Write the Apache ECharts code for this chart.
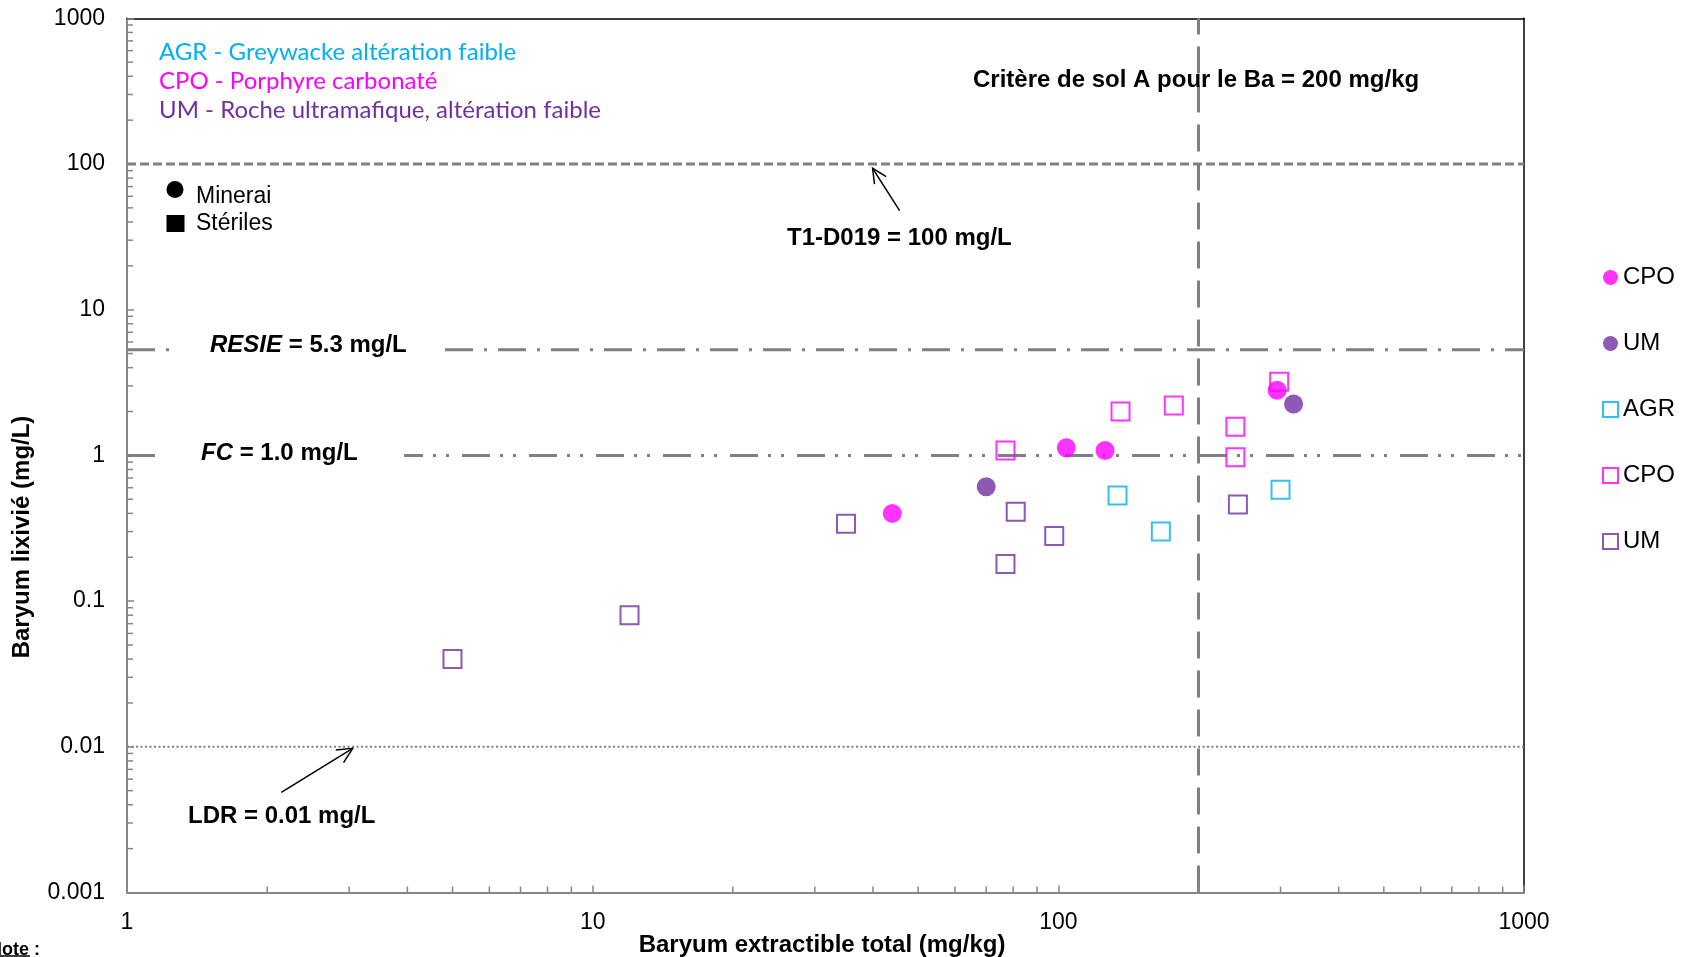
<!DOCTYPE html>
<html>
<head>
<meta charset="utf-8">
<script src="https://cdn.jsdelivr.net/npm/echarts@6/dist/echarts.min.js"></script>
<style>
  html, body { margin: 0; padding: 0; background: #fff; }
  #chart { width: 1684px; height: 957px; }
</style>
</head>
<body>
<div id="chart"></div>
<script>
// Axis tick labels (one per decade)
const xTickLabels = ['1', '10', '100', '1000'];
const yTickLabels = ['0.001', '0.01', '0.1', '1', '10', '100', '1000'];

// Minerai (filled circles): [Ba extractible total mg/kg, Ba lixivié mg/L]
const cpoMinerai = [[44, 0.40], [104, 1.13], [126, 1.08], [295, 2.8]];
const umMinerai = [[70, 0.61], [320, 2.25]];

// Stériles (open squares)
const agrSteriles = [[134, 0.53], [166, 0.30], [300, 0.58]];
const cpoSteriles = [[77, 1.08], [136, 2.0], [177, 2.2], [240, 1.57], [240, 0.97], [298, 3.2]];
const umSteriles = [[5, 0.04], [12, 0.08], [35, 0.34], [81, 0.41], [98, 0.28], [77, 0.18], [243, 0.46]];

// Regulatory thresholds
const critereSolA = 200;   // mg/kg
const t1d019 = 100;        // mg/L
const resie = 5.3;         // mg/L
const fc = 1.0;            // mg/L
const ldr = 0.01;          // mg/L

// Legend entries (right side)
const legendLabels = { cpoM: 'CPO', umM: 'UM', agrS: 'AGR', cpoS: 'CPO', umS: 'UM' };

const X_MIN = 1, X_MAX = 1000, Y_MIN = 0.001, Y_MAX = 1000;
const C_AGR = '#00B0F0', C_CPO = '#FF00FF', C_UM = '#7030A0';
const GREY = '#808080', AXIS_GREY = '#868686';
const FONT = '"Liberation Sans", Arial, sans-serif';
const KEY_FONT = '24px Lato, "Noto Sans", sans-serif';

// minor tick values 2..9 inside each decade
function minorValues(lo, hi) {
  const out = [];
  for (let d = lo; d < hi * 0.999; d *= 10) {
    for (let k = 2; k <= 9; k++) out.push(+(d * k).toPrecision(6));
  }
  return out;
}

function minorTickSeries(values, dir) {
  return {
    type: 'custom', silent: true, z: 5, clip: false, animation: false,
    data: values.map(v => dir === 'x' ? [v, Y_MIN] : [X_MIN, v]),
    renderItem: (params, api) => {
      const p = api.coord([api.value(0), api.value(1)]);
      const len = 6;
      const shape = dir === 'x'
        ? { x1: p[0], y1: p[1], x2: p[0], y2: p[1] - len }
        : { x1: p[0], y1: p[1], x2: p[0] + len, y2: p[1] };
      return { type: 'line', shape, style: { stroke: AXIS_GREY, lineWidth: 1.5 } };
    }
  };
}

function refLine(points, width, dash) {
  return {
    type: 'line', silent: true, z: 1, animation: false, showSymbol: false,
    data: points,
    lineStyle: { color: GREY, width: width, type: dash }
  };
}

function scatter(name, data, symbol, color, filled, z) {
  return {
    name, type: 'scatter', data, symbol, z, animation: false,
    symbolSize: filled ? 19 : 18,
    itemStyle: filled
      ? { color: color }
      : { color: 'transparent', borderColor: color, borderWidth: 2 }
  };
}

function arrow(x1, y1, x2, y2, head) {
  const a = Math.atan2(y2 - y1, x2 - x1);
  const s = 0.45;
  return [
    { type: 'line', z: 20, shape: { x1, y1, x2, y2 }, style: { stroke: '#000', lineWidth: 1.5 } },
    { type: 'polyline', z: 20, shape: { points: [
        [x2 - head * Math.cos(a - s), y2 - head * Math.sin(a - s)],
        [x2, y2],
        [x2 - head * Math.cos(a + s), y2 - head * Math.sin(a + s)]
      ] }, style: { stroke: '#000', lineWidth: 1.5, fill: null } }
  ];
}

function boldText(text, x, y, size, align) {
  return { type: 'text', z: 20, x, y, style: {
    text, fill: '#000', font: 'bold ' + size + 'px ' + FONT,
    align: align || 'left', verticalAlign: 'middle' } };
}

const chart = echarts.init(document.getElementById('chart'), null, { renderer: 'canvas' });

const baseAxis = {
  type: 'log', logBase: 10, splitLine: { show: false }, minorTick: { show: false }
};

chart.setOption({
  animation: false,
  backgroundColor: '#fff',
  grid: { left: 127, top: 18.3, width: 1397, height: 874.2 },
  xAxis: [
    Object.assign({}, baseAxis, {
      min: X_MIN, max: X_MAX, position: 'bottom',
      axisLine: { onZero: false, lineStyle: { color: AXIS_GREY, width: 2 } },
      axisTick: { inside: true, length: 7, lineStyle: { color: AXIS_GREY, width: 1.5 } },
      axisLabel: { margin: 19, color: '#000', fontSize: 23, fontFamily: FONT,
        formatter: v => xTickLabels[Math.round(Math.log10(v))] }
    }),
    Object.assign({}, baseAxis, {
      min: X_MIN, max: X_MAX, position: 'top',
      axisLine: { onZero: false, lineStyle: { color: '#000', width: 1.5 } },
      axisTick: { show: false }, axisLabel: { show: false }
    })
  ],
  yAxis: [
    Object.assign({}, baseAxis, {
      min: Y_MIN, max: Y_MAX, position: 'left',
      axisLine: { onZero: false, lineStyle: { color: AXIS_GREY, width: 2 } },
      axisTick: { inside: true, length: 7, lineStyle: { color: AXIS_GREY, width: 1.5 } },
      axisLabel: { margin: 22, color: '#000', fontSize: 23, fontFamily: FONT,
        formatter: v => yTickLabels[Math.round(Math.log10(v)) + 3] }
    }),
    Object.assign({}, baseAxis, {
      min: Y_MIN, max: Y_MAX, position: 'right',
      axisLine: { onZero: false, lineStyle: { color: '#000', width: 1.5 } },
      axisTick: { show: false }, axisLabel: { show: false }
    })
  ],
  legend: {
    orient: 'vertical', left: 1597, top: 260.5,
    itemWidth: 15, itemHeight: 15, itemGap: 42,
    formatter: name => legendLabels[name],
    textStyle: { color: '#000', fontSize: 24, fontFamily: FONT },
    data: [
      { name: 'cpoM', icon: 'circle', itemStyle: { color: C_CPO } },
      { name: 'umM', icon: 'circle', itemStyle: { color: C_UM } },
      { name: 'agrS', icon: 'rect', itemStyle: { color: '#fff', borderColor: C_AGR, borderWidth: 2 } },
      { name: 'cpoS', icon: 'rect', itemStyle: { color: '#fff', borderColor: C_CPO, borderWidth: 2 } },
      { name: 'umS', icon: 'rect', itemStyle: { color: '#fff', borderColor: C_UM, borderWidth: 2 } }
    ]
  },
  series: [
    refLine([[X_MIN, t1d019], [X_MAX, t1d019]], 3, [9, 4]),
    refLine([[X_MIN, resie], [X_MAX, resie]], 3, [28, 11, 3, 11]),
    refLine([[X_MIN, fc], [X_MAX, fc]], 3, [28, 10, 3, 10, 3, 13]),
    refLine([[X_MIN, ldr], [X_MAX, ldr]], 2, [2, 2.5]),
    refLine([[critereSolA, Y_MIN], [critereSolA, Y_MAX]], 3, [27, 12]),
    minorTickSeries(minorValues(X_MIN, X_MAX), 'x'),
    minorTickSeries(minorValues(Y_MIN, Y_MAX), 'y'),
    scatter('agrS', agrSteriles, 'rect', C_AGR, false, 3),
    scatter('cpoS', cpoSteriles, 'rect', C_CPO, false, 3),
    scatter('umS', umSteriles, 'rect', C_UM, false, 3),
    scatter('cpoM', cpoMinerai, 'circle', C_CPO, true, 4),
    scatter('umM', umMinerai, 'circle', C_UM, true, 4)
  ],
  graphic: [
    // rock-type key
    { type: 'text', z: 20, x: 159, y: 52.6, style: { text: 'AGR - Greywacke altération faible', fill: C_AGR, font: KEY_FONT, verticalAlign: 'middle' } },
    { type: 'text', z: 20, x: 159, y: 81.6, style: { text: 'CPO - Porphyre carbonaté', fill: C_CPO, font: KEY_FONT, verticalAlign: 'middle' } },
    { type: 'text', z: 20, x: 159, y: 110, style: { text: 'UM - Roche ultramafique, altération faible', fill: C_UM, font: KEY_FONT, verticalAlign: 'middle' } },
    // material key
    { type: 'circle', z: 20, shape: { cx: 175, cy: 189.5, r: 8.5 }, style: { fill: '#000' } },
    { type: 'text', z: 20, x: 196, y: 197, style: { text: 'Minerai', fill: '#000', font: '23px ' + FONT, verticalAlign: 'middle' } },
    { type: 'rect', z: 20, shape: { x: 166.5, y: 215, width: 18, height: 17 }, style: { fill: '#000' } },
    { type: 'text', z: 20, x: 196, y: 224, style: { text: 'Stériles', fill: '#000', font: '23px ' + FONT, verticalAlign: 'middle' } },
    // threshold labels
    boldText('Critère de sol A pour le Ba = 200 mg/kg', 973, 80, 24),
    boldText('T1-D019 = 100 mg/L', 787, 238, 24),
    ...arrow(899.6, 210.7, 872.6, 168.3, 16),
    { type: 'rect', z: 15, shape: { x: 172, y: 338, width: 264, height: 24 }, style: { fill: '#fff' } },
    { type: 'text', z: 20, x: 210, y: 345, style: {
        text: '{i|RESIE}{b| = 5.3 mg/L}', verticalAlign: 'middle',
        rich: { i: { fontStyle: 'italic', fontWeight: 'bold', fontSize: 24, fontFamily: FONT, fill: '#000' },
                b: { fontWeight: 'bold', fontSize: 24, fontFamily: FONT, fill: '#000' } } } },
    { type: 'rect', z: 15, shape: { x: 161, y: 443, width: 243, height: 24 }, style: { fill: '#fff' } },
    { type: 'text', z: 20, x: 201, y: 453, style: {
        text: '{i|FC}{b| = 1.0 mg/L}', verticalAlign: 'middle',
        rich: { i: { fontStyle: 'italic', fontWeight: 'bold', fontSize: 24, fontFamily: FONT, fill: '#000' },
                b: { fontWeight: 'bold', fontSize: 24, fontFamily: FONT, fill: '#000' } } } },
    boldText('LDR = 0.01 mg/L', 188, 816, 24),
    ...arrow(281.3, 792.3, 352.7, 748.3, 17),
    // axis titles
    { type: 'text', z: 20, x: 22, y: 537, rotation: Math.PI / 2, style: {
        text: 'Baryum lixivié (mg/L)', fill: '#000', font: 'bold 24px ' + FONT,
        align: 'center', verticalAlign: 'middle' } },
    boldText('Baryum extractible total (mg/kg)', 822, 945, 24, 'center'),
    // footnote header
    boldText('Note :', -11, 950, 18),
    { type: 'line', z: 20, shape: { x1: -11, y1: 956, x2: 30, y2: 956 }, style: { stroke: '#000', lineWidth: 1.5 } }
  ]
});
</script>
</body>
</html>
